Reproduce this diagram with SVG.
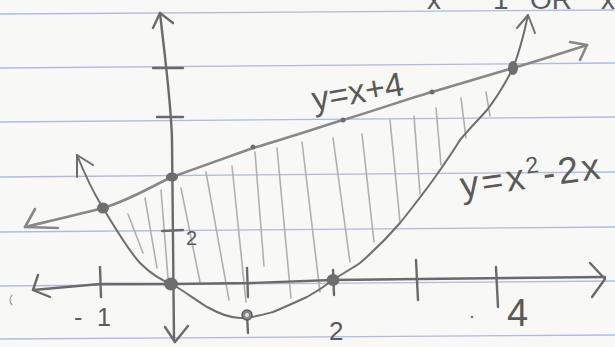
<svg xmlns="http://www.w3.org/2000/svg" width="615" height="347" viewBox="0 0 615 347">
  <style>
    .rule { stroke: #aebae0; stroke-width: 1.3; fill: none; }
    .pencil { fill: none; stroke: #6a6a6a; stroke-linecap: round; stroke-linejoin: round; }
    .axis { stroke-width: 2.4; }
    .curve { stroke-width: 2; stroke: #6e6e6e; }
    .line { stroke-width: 2.6; stroke: #888888; }
    .hatch { fill: none; stroke: #b0b0b0; stroke-width: 1.6; stroke-linecap: round; }
    .dot { fill: #6e6e6e; }
    .lbl { font-family: "Liberation Sans", Arial, sans-serif; fill: #5a5a5a; }
  </style>
  <rect width="615" height="347" fill="#f8f8f6"/>

  <g id="paper-rules">
    <line class="rule" x1="0" y1="14" x2="615" y2="10"/>
    <line class="rule" x1="0" y1="68" x2="615" y2="63"/>
    <line class="rule" x1="0" y1="122" x2="615" y2="117"/>
    <line class="rule" x1="0" y1="177" x2="615" y2="172"/>
    <line class="rule" x1="0" y1="232" x2="615" y2="227"/>
    <line class="rule" x1="0" y1="286" x2="615" y2="281"/>
    <line class="rule" x1="0" y1="339" x2="615" y2="335"/>
  </g>

  <g id="top-note" class="lbl" font-size="28">
    <text x="427" y="9">x</text>
    <text x="493" y="9">1</text>
    <text x="530" y="9">OR</text>
    <text x="601" y="9">x</text>
  </g>

  <g id="hatching">
    <line class="hatch" x1="128" y1="214" x2="143" y2="253"/>
    <line class="hatch" x1="145" y1="198" x2="157" y2="268"/>
    <line class="hatch" x1="161" y1="190" x2="168" y2="278"/>
    <line class="hatch" x1="181" y1="188" x2="200" y2="282"/>
    <line class="hatch" x1="206" y1="172" x2="229" y2="300"/>
    <line class="hatch" x1="232" y1="166" x2="246" y2="302"/>
    <line class="hatch" x1="255" y1="152" x2="264" y2="266"/>
    <line class="hatch" x1="277" y1="148" x2="291" y2="298"/>
    <line class="hatch" x1="302" y1="142" x2="320" y2="292"/>
    <line class="hatch" x1="333" y1="138" x2="350" y2="262"/>
    <line class="hatch" x1="362" y1="134" x2="374" y2="242"/>
    <line class="hatch" x1="390" y1="120" x2="400" y2="222"/>
    <line class="hatch" x1="414" y1="116" x2="420" y2="194"/>
    <line class="hatch" x1="436" y1="108" x2="441" y2="165"/>
    <line class="hatch" x1="461" y1="98" x2="466" y2="138"/>
    <line class="hatch" x1="486" y1="92" x2="490" y2="116"/>
  </g>

  <g id="axes" class="pencil">
    <path class="axis" d="M160 13 C164 50 171 100 172 140 L174 340"/>
    <path class="axis" d="M153 28 L160 13 L173 23"/>
    <path class="axis" d="M165 327 L175 342 L188 326"/>
    <line class="axis" x1="153" y1="68" x2="183" y2="68"/>
    <line class="axis" x1="157" y1="117" x2="183" y2="117"/>
    <line class="axis" x1="162" y1="231" x2="183" y2="230"/>
    <path class="axis" d="M33 290 L100 284 L172 284 L250 283 L333 280 L420 279 L605 277"/>
    <path class="axis" d="M38 275 L33 290 L50 297"/>
    <path class="axis" d="M590 263 L605 279 L592 297"/>
    <line class="axis" x1="100" y1="267" x2="101" y2="297"/>
    <line class="axis" x1="247" y1="268" x2="248" y2="297"/>
    <line class="axis" x1="333" y1="270" x2="334" y2="295"/>
    <line class="axis" x1="416" y1="260" x2="418" y2="300"/>
    <line class="axis" x1="496" y1="267" x2="498" y2="307"/>
    <line class="axis" x1="247" y1="315" x2="248" y2="333"/>
  </g>

  <g id="line-y-x-plus-4" class="pencil">
    <path class="line" d="M25 227 C50 221 80 214 103 208 C130 200 150 187 172 177 C200 167 230 156 253 148 C290 137 320 127 343 120 C380 109 410 98 432 92 C470 81 500 72 513 68 C540 60 565 52 587 45"/>
    <path class="line" d="M35 209 L25 227 L58 228"/>
    <path class="line" d="M570 42 L587 45 L580 60"/>
  </g>

  <g id="parabola" class="pencil">
    <path class="curve" d="M77 155 C85 175 93 192 103 208 C115 228 128 250 140 263 C150 273 160 280 172 284 C185 292 196 300 207 307 C218 313 230 318 240 318 C252 318 262 315 273 312 C285 307 296 302 307 297 C316 292 325 286 333 280 C342 274 351 269 360 263 C375 250 388 237 400 223 C412 208 423 194 433 180 C443 166 452 153 460 140 C470 128 480 118 487 110 C497 97 506 82 513 68 C519 53 524 34 528 15"/>
    <path class="curve" d="M77 177 L77 155 L93 165"/>
    <path class="curve" d="M517 28 L528 15 L535 33"/>
  </g>

  <g id="points">
    <ellipse class="dot" cx="103" cy="208" rx="6" ry="5.5"/>
    <ellipse class="dot" cx="172" cy="177" rx="6" ry="4.5"/>
    <ellipse class="dot" cx="171" cy="284" rx="7" ry="6.5"/>
    <circle cx="247" cy="315" r="5" fill="#8a8a8a" stroke="#5e5e5e" stroke-width="1.5"/>
    <circle cx="247" cy="315" r="2" fill="#e0e0e0"/>
    <ellipse class="dot" cx="333" cy="280" rx="6.5" ry="6"/>
    <ellipse class="dot" cx="513" cy="68" rx="5" ry="7"/>
    <circle class="dot" cx="253" cy="147" r="2.5"/>
    <circle class="dot" cx="343" cy="120" r="2.5"/>
    <circle class="dot" cx="432" cy="92" r="2.5"/>
  </g>

  <g id="labels" class="lbl">
    <text x="74 97" y="326" font-size="25">-1</text>
    <text x="186" y="245" font-size="20">2</text>
    <text x="329" y="340" font-size="26">2</text>
    <text x="507" y="326" font-size="38">4</text>
    <text x="314" y="111" font-size="34" transform="rotate(-10 314 111)">y=x+4</text>
    <text x="462" y="198" font-size="37" letter-spacing="3" transform="rotate(-8 462 198)">y=x<tspan font-size="23" dy="-15">2</tspan><tspan dy="15">-2x</tspan></text>
  </g>

  <g id="stray-marks" fill="none" stroke="#9a9a9a" stroke-width="1.2" stroke-linecap="round">
    <path d="M12 295 Q8 300 12 305"/>
    <circle cx="472" cy="317" r="1.3" fill="#7a7a7a" stroke="none"/>
  </g>
</svg>
